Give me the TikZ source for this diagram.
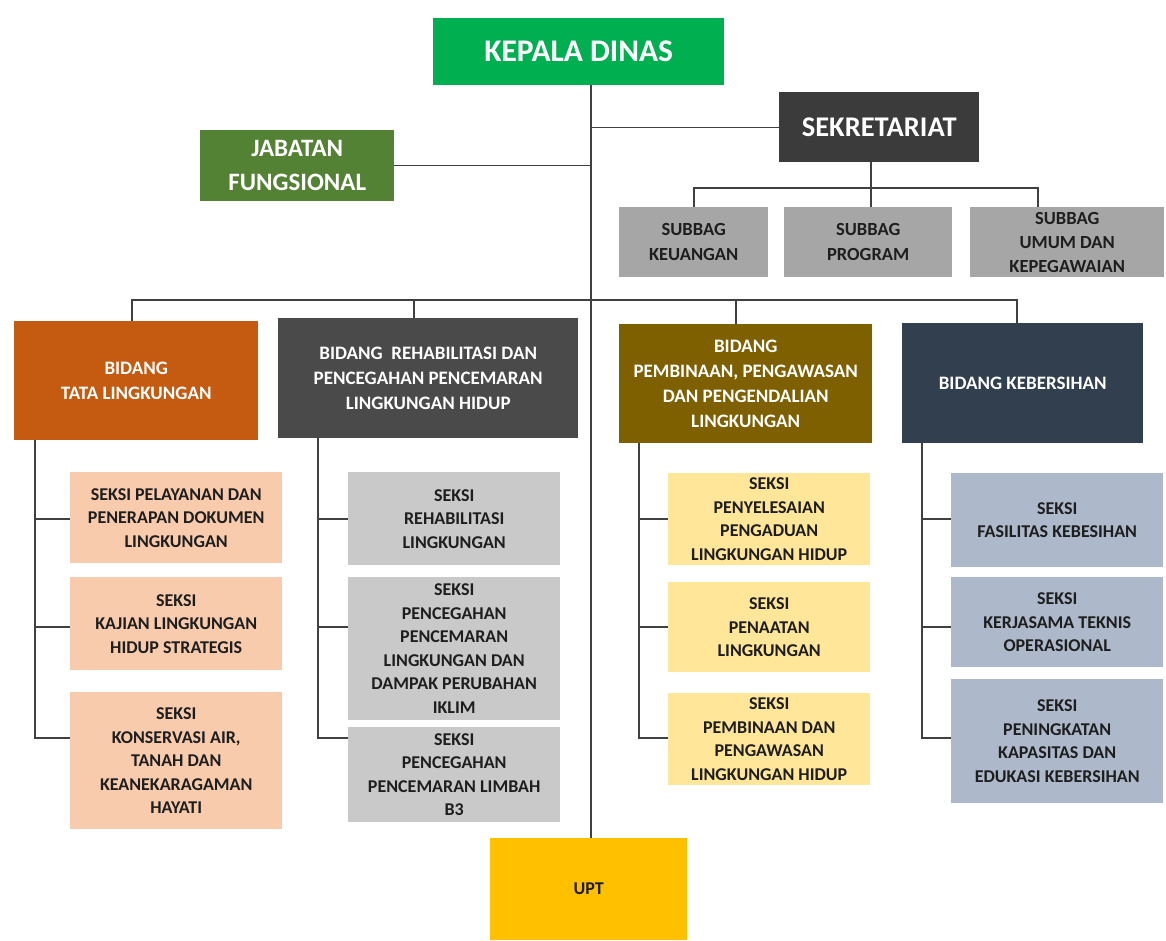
\documentclass[tikz,border=0pt]{standalone}
\usepackage{fontspec}
\setmainfont{Carlito}
\definecolor{cKD}{HTML}{00B050}
\definecolor{cSek}{HTML}{3B3B3B}
\definecolor{cJab}{HTML}{548235}
\definecolor{cSub}{HTML}{A6A6A6}
\definecolor{cB1}{HTML}{C55A11}
\definecolor{cB2}{HTML}{4A4A4A}
\definecolor{cB3}{HTML}{7F6000}
\definecolor{cB4}{HTML}{323F4F}
\definecolor{cS1}{HTML}{F8CBAD}
\definecolor{cS2}{HTML}{C9C9C9}
\definecolor{cS3}{HTML}{FFE699}
\definecolor{cS4}{HTML}{ADB9CA}
\definecolor{cUPT}{HTML}{FFC000}
\definecolor{cLine}{HTML}{404040}
\definecolor{cTxt}{HTML}{1E1E1E}
\begin{document}
\begin{tikzpicture}[x=1pt,y=-1pt,
  box/.style={draw=none,anchor=north west,inner sep=0pt,align=center},
  big/.style={box,text=white,font=\bfseries\fontsize{31.5}{36}\selectfont},
  mid/.style={box,text=white,font=\bfseries\fontsize{25}{34}\selectfont},
  bid/.style={box,text=white,font=\bfseries\fontsize{19}{25}\selectfont},
  sek/.style={box,text=cTxt,font=\bfseries\fontsize{18}{23.5}\selectfont},
  sub/.style={box,text=cTxt,font=\bfseries\fontsize{18.5}{24.5}\selectfont},
  conn/.style={draw=cLine,line width=1.3pt}]
\useasboundingbox (0,0) rectangle (1166,940);
\fill[white] (0,0) rectangle (1166,940);
% top level
\node[big,fill=cKD,minimum width=291pt,minimum height=67pt] (kd) at (433,18) {KEPALA DINAS};
\node[box,text=white,font=\bfseries\fontsize{28.5}{32}\selectfont,fill=cSek,minimum width=200pt,minimum height=70pt] (sek) at (779,92) {SEKRETARIAT};
\node[mid,fill=cJab,minimum width=194pt,minimum height=71pt] (jab) at (200,130) {JABATAN\\FUNGSIONAL};
% subbag
\node[sub,fill=cSub,minimum width=149pt,minimum height=70pt] (sb1) at (619,207) {SUBBAG\\KEUANGAN};
\node[sub,fill=cSub,minimum width=168pt,minimum height=70pt] (sb2) at (784,207) {SUBBAG\\PROGRAM};
\node[sub,fill=cSub,minimum width=194pt,minimum height=70pt,font=\bfseries\fontsize{18.5}{24}\selectfont] (sb3) at (970,207) {SUBBAG\\UMUM DAN\\KEPEGAWAIAN};
% bidang
\node[bid,fill=cB1,minimum width=244pt,minimum height=119pt] (bid1) at (14,321) {BIDANG\\TATA LINGKUNGAN};
\node[bid,fill=cB2,minimum width=300pt,minimum height=120pt] (bid2) at (278,318) {BIDANG\ \ REHABILITASI DAN\\PENCEGAHAN PENCEMARAN\\LINGKUNGAN HIDUP};
\node[bid,fill=cB3,minimum width=253pt,minimum height=119pt] (bid3) at (619,324) {BIDANG\\PEMBINAAN, PENGAWASAN\\DAN PENGENDALIAN\\LINGKUNGAN};
\node[bid,fill=cB4,minimum width=241pt,minimum height=120pt] (bid4) at (902,323) {BIDANG KEBERSIHAN};
% seksi column 1
\node[sek,fill=cS1,minimum width=212pt,minimum height=91pt] (s11) at (70,472) {SEKSI PELAYANAN DAN\\PENERAPAN DOKUMEN\\LINGKUNGAN};
\node[sek,fill=cS1,minimum width=212pt,minimum height=93pt] (s12) at (70,577) {SEKSI\\KAJIAN LINGKUNGAN\\HIDUP STRATEGIS};
\node[sek,fill=cS1,minimum width=212pt,minimum height=137pt] (s13) at (70,692) {SEKSI\\KONSERVASI AIR,\\TANAH DAN\\KEANEKARAGAMAN\\HAYATI};
% seksi column 2
\node[sek,fill=cS2,minimum width=212pt,minimum height=93pt] (s21) at (348,472) {SEKSI\\REHABILITASI\\LINGKUNGAN};
\node[sek,fill=cS2,minimum width=212pt,minimum height=143pt] (s22) at (348,577) {SEKSI\\PENCEGAHAN\\PENCEMARAN\\LINGKUNGAN DAN\\DAMPAK PERUBAHAN\\IKLIM};
\node[sek,fill=cS2,minimum width=212pt,minimum height=95pt] (s23) at (348,727) {SEKSI\\PENCEGAHAN\\PENCEMARAN LIMBAH\\B3};
% seksi column 3
\node[sek,fill=cS3,minimum width=202pt,minimum height=92pt] (s31) at (668,473) {SEKSI\\PENYELESAIAN\\PENGADUAN\\LINGKUNGAN HIDUP};
\node[sek,fill=cS3,minimum width=202pt,minimum height=90pt] (s32) at (668,582) {SEKSI\\PENAATAN\\LINGKUNGAN};
\node[sek,fill=cS3,minimum width=202pt,minimum height=92pt] (s33) at (668,693) {SEKSI\\PEMBINAAN DAN\\PENGAWASAN\\LINGKUNGAN HIDUP};
% seksi column 4
\node[sek,fill=cS4,minimum width=212pt,minimum height=94pt] (s41) at (951,473) {SEKSI\\FASILITAS KEBESIHAN};
\node[sek,fill=cS4,minimum width=212pt,minimum height=90pt] (s42) at (951,577) {SEKSI\\KERJASAMA TEKNIS\\OPERASIONAL};
\node[sek,fill=cS4,minimum width=212pt,minimum height=124pt] (s43) at (951,679) {SEKSI\\PENINGKATAN\\KAPASITAS DAN\\EDUKASI KEBERSIHAN};
% UPT
\node[sek,fill=cUPT,minimum width=197pt,minimum height=102pt] (upt) at (490,838) {UPT};
% helper coordinates
\coordinate (spine) at (591,0);
\coordinate (sbL) at (694,188);
\coordinate (sbM) at (871,188);
\coordinate (sbR) at (1038,188);
\coordinate (b1) at (132,300);
\coordinate (b2) at (414,300);
\coordinate (b3) at (736,300);
\coordinate (b4) at (1017,300);
\coordinate (c1) at (35,0);
\coordinate (c2) at (318,0);
\coordinate (c3) at (639,0);
\coordinate (c4) at (922,0);
\coordinate (t1) at (0,519);
\coordinate (t2) at (0,627);
\coordinate (t3) at (0,738);
% connectors
\draw[conn] (spine |- kd.south) -- (spine |- upt.north);
\draw[conn] (sek.west) -- (sek.west -| spine);
\draw[conn] (jab.east) -- (jab.east -| spine);
\draw[conn] (sbL |- sb1.north) -- (sbL) -- (sbR) -- (sbR |- sb3.north);
\draw[conn] (sbM |- sek.south) -- (sbM |- sb2.north);
\draw[conn] (b1 |- bid1.north) -- (b1) -- (b4) -- (b4 |- bid4.north);
\draw[conn] (b2) -- (b2 |- bid2.north);
\draw[conn] (b3) -- (b3 |- bid3.north);
% column 1
\draw[conn] (c1 |- bid1.south) -- (c1 |- t3) -- (s13.west |- t3);
\draw[conn] (c1 |- t1) -- (s11.west |- t1);
\draw[conn] (c1 |- t2) -- (s12.west |- t2);
% column 2
\draw[conn] (c2 |- bid2.south) -- (c2 |- t3) -- (s23.west |- t3);
\draw[conn] (c2 |- t1) -- (s21.west |- t1);
\draw[conn] (c2 |- t2) -- (s22.west |- t2);
% column 3
\draw[conn] (c3 |- bid3.south) -- (c3 |- t3) -- (s33.west |- t3);
\draw[conn] (c3 |- t1) -- (s31.west |- t1);
\draw[conn] (c3 |- t2) -- (s32.west |- t2);
% column 4
\draw[conn] (c4 |- bid4.south) -- (c4 |- t3) -- (s43.west |- t3);
\draw[conn] (c4 |- t1) -- (s41.west |- t1);
\draw[conn] (c4 |- t2) -- (s42.west |- t2);
\end{tikzpicture}
\end{document}
